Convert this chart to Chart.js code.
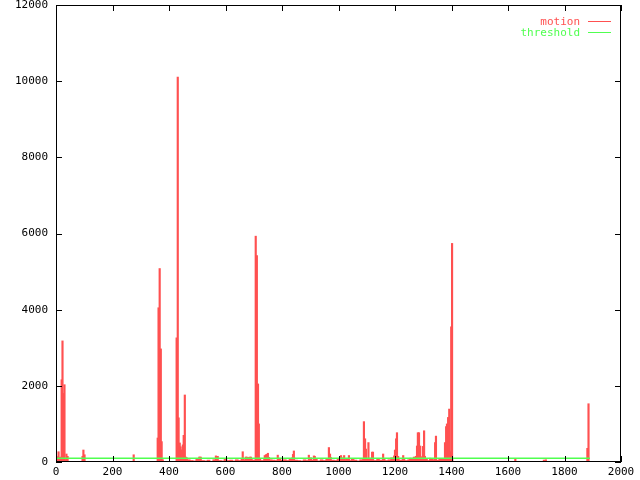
<!DOCTYPE html>
<html>
<head>
<meta charset="utf-8">
<script src="https://cdn.jsdelivr.net/npm/chart.js@4"></script>
<style>
    body { margin: 0; background: #fff; }
    canvas { display: block; }
</style>
</head>
<body>
<canvas id="grafico" width="640" height="480"></canvas>
<script>
// DADOS
const xTicks = [0, 200, 400, 600, 800, 1000, 1200, 1400, 1600, 1800, 2000];
const yTicks = [0, 2000, 4000, 6000, 8000, 10000, 12000];

// picos (x, altura)
const spikeX = [
    2, 5, 9, 12, 16, 20, 23, 27, 30, 34, 37, 41,
    94, 97, 101,
    275,
    360, 363, 367, 371, 374, 378,
    427, 431, 434, 438, 441, 445, 449, 452, 456, 459, 463,
    509, 566,
    661, 672, 675, 686, 690, 707, 711, 715, 718, 722,
    739, 743, 746, 750, 754, 785, 839, 842, 895, 913, 916,
    966, 970, 1009, 1020, 1037,
    1090, 1094, 1097, 1106, 1119, 1122, 1158,
    1197, 1200, 1204, 1207, 1211, 1229, 1253,
    1267, 1274, 1278, 1281, 1285, 1289, 1296, 1299, 1303, 1306,
    1324, 1342, 1345,
    1377, 1381, 1384, 1388, 1392, 1395, 1399, 1402,
    1626, 1727, 1734, 1881, 1885
];
const spikeY = [
    100, 140, 270, 120, 130, 2160, 3180, 1800, 2030, 60, 210, 150,
    150, 315, 190,
    190,
    630, 4050, 5080, 2970, 535, 60,
    3260, 10110, 1160, 500, 400, 320, 450, 700, 1760, 130, 110,
    130, 160,
    270, 130, 130, 130, 130, 5930, 5420, 2050, 1000, 60,
    170, 190, 200, 230, 120, 180, 200, 290, 180, 160, 150,
    380, 210, 170, 170, 170,
    1060, 610, 340, 510, 260, 260, 210,
    160, 315, 610, 770, 150, 170, 100,
    130, 150, 420, 770, 770, 420, 140, 410, 820, 150,
    100, 510, 680,
    510, 930, 1000, 1170, 1390, 270, 3550, 5740,
    80, 50, 60, 360, 1530
];

// ruído de fundo
const noiseX = [
    470, 480, 490, 500, 510, 520, 530, 540, 550, 560, 570, 580, 590, 600, 610, 620,
    630, 640, 650, 660, 670, 680, 690, 700, 710, 720, 730, 740, 750, 760, 770, 780,
    790, 800, 810, 820, 830, 840, 850, 860, 870, 880, 890, 900, 910, 920, 930, 940,
    950, 960, 970, 980, 990, 1000, 1010, 1020, 1030, 1040, 1050, 1060, 1070, 1080,
    1090, 1100, 1110, 1120, 1130, 1140, 1150, 1160, 1170, 1180, 1190, 1200, 1210,
    1220, 1230, 1240, 1250, 1260, 1270, 1280, 1290, 1300, 1310, 1320, 1330, 1340,
    1350, 1360, 1370, 1380, 1390, 1400
];
const noiseY = [
    60, 40, 30, 70, 130, 40, 30, 50, 20, 60, 150, 40, 30, 70, 40, 50,
    30, 60, 40, 80, 60, 120, 90, 50, 60, 80, 40, 90, 120, 60, 50, 40,
    100, 50, 60, 40, 70, 120, 50, 40, 30, 60, 40, 110, 50, 80, 30, 60,
    40, 90, 120, 50, 40, 70, 110, 60, 90, 40, 70, 50, 30, 60,
    90, 70, 100, 60, 40, 70, 50, 90, 40, 60, 110, 80, 70,
    50, 90, 40, 60, 100, 70, 90, 60, 80, 70, 40, 90, 60,
    50, 70, 90, 110, 120, 80
];

const threshold = 100;
const dataStart = 0;
const dataEnd = 1890;

const vermelho = "#ff5050";
const verde = "#50ff50";
const fonte = "DejaVu Sans Mono";

Chart.defaults.font.family = fonte;
Chart.defaults.font.size = 11;
Chart.defaults.color = "#000";

function pares(xs, ys) {
    return xs.map((x, i) => ({ x: x, y: ys[i] }));
}

// MOLDURA ESTILO GNUPLOT
const moldura = {
    id: "moldura",
    afterDatasetsDraw(chart) {
        const c = chart.ctx;
        const a = chart.chartArea;
        const sx = chart.scales.x;
        const sy = chart.scales.y;
        c.save();
        c.strokeStyle = "#000";
        c.lineWidth = 1;
        c.beginPath();
        xTicks.forEach(v => {
            const p = Math.round(sx.getPixelForValue(v)) + 0.5;
            c.moveTo(p, a.bottom);
            c.lineTo(p, a.bottom - 6);
            c.moveTo(p, a.top);
            c.lineTo(p, a.top + 6);
        });
        yTicks.forEach(v => {
            const p = Math.round(sy.getPixelForValue(v)) + 0.5;
            c.moveTo(a.left, p);
            c.lineTo(a.left + 6, p);
            c.moveTo(a.right, p);
            c.lineTo(a.right - 6, p);
        });
        c.stroke();
        c.strokeRect(a.left + 0.5, a.top + 0.5, a.right - a.left - 1, a.bottom - a.top - 1);

        // legenda
        c.font = "11px " + fonte;
        c.textAlign = "right";
        c.textBaseline = "middle";
        const itens = [chart.data.datasets[1], chart.data.datasets[0]];
        itens.forEach((ds, i) => {
            const y = 22 + i * 11;
            c.fillStyle = ds.borderColor;
            c.fillText(ds.label, 580, y);
            c.strokeStyle = ds.borderColor;
            c.beginPath();
            c.moveTo(588, y - 0.5);
            c.lineTo(611, y - 0.5);
            c.stroke();
        });
        c.restore();
    }
};

new Chart(document.getElementById("grafico").getContext("2d"), {
    type: "bar",
    data: {
        datasets: [
            {
                type: "line",
                label: "threshold",
                data: [{ x: dataStart, y: threshold }, { x: dataEnd, y: threshold }],
                borderColor: verde,
                borderWidth: 1.5,
                pointRadius: 0,
                order: 0
            },
            {
                label: "motion",
                data: pares(spikeX, spikeY),
                backgroundColor: vermelho,
                borderColor: vermelho,
                borderWidth: 0,
                barThickness: 1.5,
                grouped: false,
                order: 1
            },
            {
                label: "motion",
                data: pares(noiseX, noiseY),
                backgroundColor: vermelho,
                borderWidth: 0,
                barThickness: 2.9,
                grouped: false,
                order: 2
            },
            {
                type: "line",
                label: "motion",
                data: [{ x: dataStart, y: 0 }, { x: dataEnd, y: 0 }],
                borderColor: vermelho,
                borderWidth: 2,
                pointRadius: 0,
                order: 3
            }
        ]
    },
    options: {
        responsive: false,
        animation: false,
        layout: { padding: { top: 5, right: 19, left: 0, bottom: 0 } },
        plugins: {
            legend: { display: false },
            tooltip: { enabled: false }
        },
        scales: {
            x: {
                type: "linear",
                min: 0,
                max: 2000,
                offset: false,
                afterBuildTicks: s => { s.ticks = xTicks.map(v => ({ value: v })); },
                afterFit: s => { s.height = 18; s.paddingLeft = 0; s.paddingRight = 0; },
                ticks: { callback: v => String(v), padding: 4, maxRotation: 0, autoSkip: false },
                grid: { display: false, drawTicks: false },
                border: { display: false }
            },
            y: {
                min: 0,
                max: 12000,
                afterBuildTicks: s => { s.ticks = yTicks.map(v => ({ value: v })); },
                afterFit: s => { s.width = 56; s.paddingTop = 0; s.paddingBottom = 0; },
                ticks: { callback: v => String(v), padding: 8 },
                grid: { display: false, drawTicks: false },
                border: { display: false }
            }
        }
    },
    plugins: [moldura]
});
</script>
</body>
</html>
